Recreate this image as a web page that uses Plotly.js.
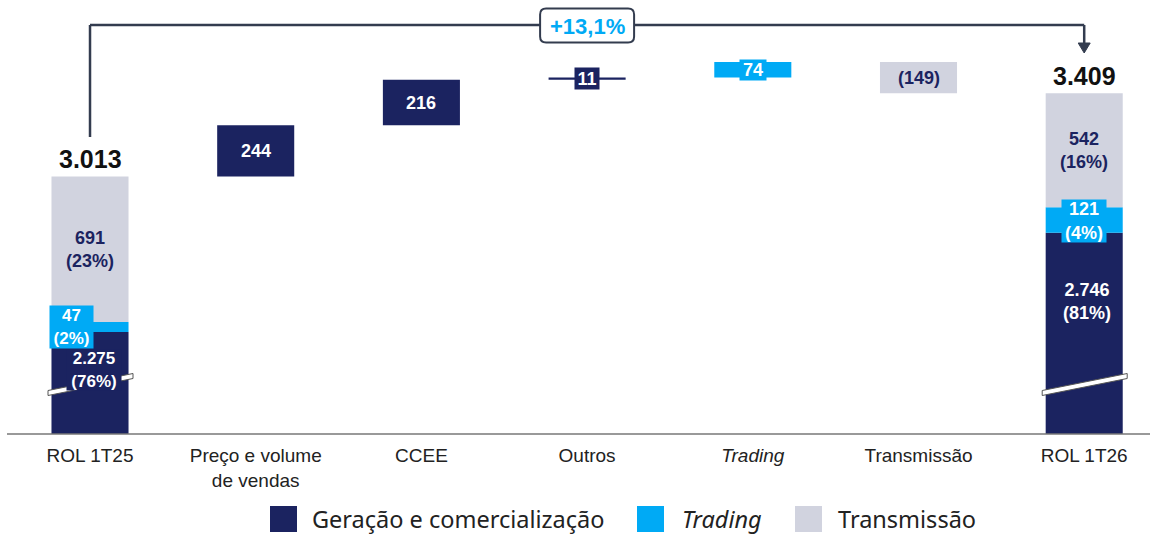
<!DOCTYPE html>
<html>
<head>
<meta charset="utf-8">
<script src="https://cdn.plot.ly/plotly-3.0.1.min.js"></script>
<style>html,body{margin:0;padding:0;background:#fff;}#chart{width:1153px;height:534px;}</style>
</head>
<body>
<div id="chart"></div>
<script>
// ---------- data ----------
const categories = ['ROL 1T25', 'Preço e volume<br>de vendas', 'CCEE', 'Outros', '<i>Trading</i>', 'Transmissão', 'ROL 1T26'];
const startTotal = 3013;
const endTotal = 3409;
const startSegments = [2275, 47, 691];      // Geração e comercialização, Trading, Transmissão
const startPct = [76, 2, 23];
const endSegments = [2746, 121, 542];
const endPct = [81, 4, 16];
const deltas = [244, 216, 11, 74, -149];    // Preço e volume, CCEE, Outros, Trading, Transmissão
const deltaSegment = [0, 0, 0, 1, 2];       // index into segment series
const growthLabel = '+13,1%';
const seriesNames = ['Geração e comercialização', '<i>Trading</i>', 'Transmissão'];

// ---------- style ----------
const COLORS = ['#1b2360', '#00aaf5', '#d1d3df'];
const LINE = '#333c4f';
const FONT = 'Liberation Sans, Arial, sans-serif';
const H = 434, Y0 = 1790, Y1 = 3852;
const yv = py => Y1 - py * (Y1 - Y0) / H;   // pixel -> data
const yp = py => 1 - py / H;                 // pixel -> paper
const xp = px => px / 1153;

function fmt(n) { return Math.abs(n).toLocaleString('de-DE'); }
function fmtDelta(n) { return n < 0 ? '(' + fmt(n) + ')' : fmt(n); }

// ---------- build bars ----------
const tr = [0, 1, 2].map(i => ({type: 'bar', x: [], y: [], base: [], marker: {color: COLORS[i]}, width: [], hoverinfo: 'skip', showlegend: false}));
const BW = 0.465;
let acc = 0;
startSegments.forEach((v, i) => { tr[i].x.push(categories[0]); tr[i].y.push(v); tr[i].base.push(acc); tr[i].width.push(BW); acc += v; });
let run = startTotal;
const deltaBases = [];
deltas.forEach((d, k) => {
  const s = deltaSegment[k];
  tr[s].x.push(categories[k + 1]); tr[s].y.push(d); tr[s].base.push(run); tr[s].width.push(BW);
  deltaBases.push(run);
  run += d;
});
acc = 0;
endSegments.forEach((v, i) => { tr[i].x.push(categories[6]); tr[i].y.push(v); tr[i].base.push(acc); tr[i].width.push(BW); acc += v; });

// ---------- annotations ----------
const LS = 18;
const lblFont = (c, s) => ({family: FONT, size: s || LS, color: c});
const ann = [];
function A(o) { ann.push(Object.assign({showarrow: false, xref: 'x', yref: 'y'}, o)); }

// totals
A({x: 0, y: yv(159), text: '<b>' + fmt(startTotal) + '</b>', font: {family: FONT, size: 25, color: '#111'}});
A({x: 6, y: yv(76), text: '<b>' + fmt(endTotal) + '</b>', font: {family: FONT, size: 25, color: '#111'}});

// start segments
A({x: 0, y: startSegments[0] + startSegments[1] + startSegments[2] / 2, text: '<b>' + fmt(startSegments[2]) + '<br>(' + startPct[2] + '%)</b>', font: lblFont(COLORS[0])});
A({x: 0, xshift: -18.5, y: yv(327), text: '<b>' + fmt(startSegments[1]) + '<br>(' + startPct[1] + '%)</b>', font: lblFont('#fff', 17), bgcolor: COLORS[1], borderpad: 0, width: 43, height: 42});
A({x: 0, xshift: 3.5, y: yv(370), text: '<b>' + fmt(startSegments[0]) + '<br>(' + startPct[0] + '%)</b>', font: lblFont('#fff', 17), bgcolor: COLORS[0], borderpad: 0, width: 54, height: 40});

// end segments
A({x: 6, y: endSegments[0] + endSegments[1] + endSegments[2] / 2, text: '<b>' + fmt(endSegments[2]) + '<br>(' + endPct[2] + '%)</b>', font: lblFont(COLORS[0])});
A({x: 6, y: yv(221), text: '<b>' + fmt(endSegments[1]) + '<br>(' + endPct[1] + '%)</b>', font: lblFont('#fff'), bgcolor: COLORS[1], borderpad: 0, width: 44, height: 42});
A({x: 6, xshift: 3, y: yv(301), text: '<b>' + fmt(endSegments[0]) + '<br>(' + endPct[0] + '%)</b>', font: lblFont('#fff')});

// delta labels
deltas.forEach((d, k) => {
  const s = deltaSegment[k];
  const o = {x: k + 1, y: deltaBases[k] + d / 2, text: '<b>' + fmtDelta(d) + '</b>', font: lblFont(s === 2 ? COLORS[0] : '#fff')};
  if (s === 0 && Math.abs(d) < 30) { o.bgcolor = COLORS[0]; o.borderpad = 0; o.width = 24; o.height = 21; }
  if (s === 1) { o.bgcolor = COLORS[1]; o.borderpad = 0; o.width = 26; o.height = 20; }
  A(o);
});

// growth label
A({x: 3, y: yv(26), text: '<b>' + growthLabel + '</b>', font: {family: FONT, size: 22, color: COLORS[1]}});

// legend text
const legX = [310, 680, 836];
seriesNames.forEach((n, i) => {
  ann.push({xref: 'paper', yref: 'paper', x: xp(legX[i]), y: yp(519), xanchor: 'left', yanchor: 'middle', showarrow: false, text: n, font: {family: 'Noto Sans, Open Sans, sans-serif', size: 23.5, color: '#222'}});
});

// ---------- shapes ----------
const shapes = [];
shapes.push({type: 'line', xref: 'paper', yref: 'paper', x0: xp(7), x1: xp(1150), y0: 0, y1: 0, line: {color: '#777', width: 1.5}});
[0, 6].forEach(xi => {
  shapes.push({type: 'path', xref: 'x', yref: 'paper', xsizemode: 'pixel', ysizemode: 'pixel', xanchor: xi, yanchor: yp(384.5),
    path: 'M -42,-11 L 43,6 L 43,11 L -42,-6 Z', fillcolor: '#fff', line: {color: '#555', width: 1}});
});
shapes.push({type: 'line', xref: 'x', yref: 'paper', x0: 0, x1: 0, y0: yp(137), y1: yp(25), line: {color: LINE, width: 2.5}});
shapes.push({type: 'line', xref: 'x', yref: 'paper', x0: 0, x1: 6, y0: yp(25), y1: yp(25), line: {color: LINE, width: 2.5}});
shapes.push({type: 'line', xref: 'x', yref: 'paper', x0: 6, x1: 6, y0: yp(25), y1: yp(45), line: {color: LINE, width: 2.5}});
shapes.push({type: 'path', xref: 'x', yref: 'paper', xsizemode: 'pixel', ysizemode: 'pixel', xanchor: 6, yanchor: yp(53),
  path: 'M -6,10 L 6,10 L 0,0 Z', fillcolor: LINE, line: {color: LINE, width: 1}});
shapes.push({type: 'path', xref: 'x', yref: 'paper', xsizemode: 'pixel', ysizemode: 'pixel', xanchor: 3, yanchor: yp(25.5),
  path: 'M -41,17 L 41,17 Q 47,17 47,11 L 47,-11 Q 47,-17 41,-17 L -41,-17 Q -47,-17 -47,-11 L -47,11 Q -47,17 -41,17 Z',
  fillcolor: '#fff', line: {color: LINE, width: 2}});
const sqX = [270, 637, 795];
sqX.forEach((x, i) => {
  shapes.push({type: 'rect', xref: 'paper', yref: 'paper', x0: xp(x), x1: xp(x + 27), y0: yp(532), y1: yp(506), fillcolor: COLORS[i], line: {width: 0}});
});

const layout = {
  width: 1153, height: 534,
  margin: {l: 0, r: 0, t: 0, b: 100},
  paper_bgcolor: '#fff', plot_bgcolor: '#fff',
  barmode: 'overlay',
  showlegend: false,
  font: {family: FONT, color: '#222'},
  xaxis: {type: 'category', categoryorder: 'array', categoryarray: categories, range: [-0.5432, 6.4152],
    showgrid: false, zeroline: false, showline: false, ticks: '', ticklabelstandoff: 8,
    tickfont: {family: FONT, size: 19, color: '#222'}, fixedrange: true},
  yaxis: {range: [Y0, Y1], visible: false, showgrid: false, zeroline: false, fixedrange: true},
  annotations: ann,
  shapes: shapes
};

Plotly.newPlot('chart', tr, layout, {displayModeBar: false, staticPlot: true});
</script>
</body>
</html>
